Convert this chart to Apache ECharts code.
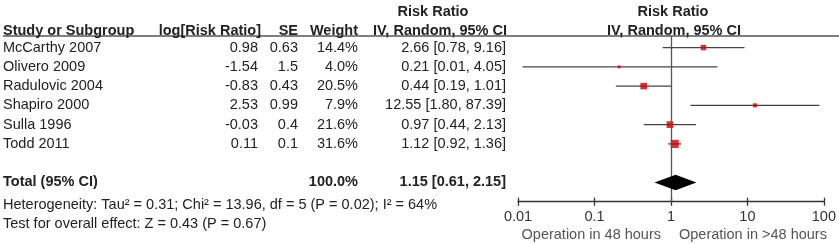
<!DOCTYPE html>
<html>
<head>
<meta charset="utf-8">
<script src="https://cdn.jsdelivr.net/npm/echarts@6/dist/echarts.min.js"></script>
<style>
  html, body { margin: 0; padding: 0; background: #fff; }
  #chart { width: 839px; height: 244px; }
</style>
</head>
<body>
<div id="chart"></div>
<script>
// study rows
var studies = ['McCarthy 2007', 'Olivero 2009', 'Radulovic 2004', 'Shapiro 2000', 'Sulla 1996', 'Todd 2011'];
var logRR = ['0.98', '-1.54', '-0.83', '2.53', '-0.03', '0.11'];
var se = ['0.63', '1.5', '0.43', '0.99', '0.4', '0.1'];
var weight = [14.4, 4.0, 20.5, 7.9, 21.6, 31.6];
var rr = [2.66, 0.21, 0.44, 12.55, 0.97, 1.12];
var ciLow = [0.78, 0.0115, 0.19, 1.80, 0.44, 0.92];
var ciHigh = [9.16, 4.05, 1.01, 87.39, 2.13, 1.36];

// pooled estimate
var totalLabel = 'Total (95% CI)';
var totalWeight = 100.0;
var totalRR = [1.15];
var totalLow = [0.61];
var totalHigh = [2.15];
var totalRow = 7;

// axis
var tickValues = [0.01, 0.1, 1, 10, 100];
var favoursLeft = 'Operation in 48 hours';
var favoursRight = 'Operation in >48 hours';
var hetText = 'Heterogeneity: Tau² = 0.31; Chi² = 13.96, df = 5 (P = 0.02); I² = 64%';
var overallText = 'Test for overall effect: Z = 0.43 (P = 0.67)';

var FONT = '"Liberation Sans", Arial, sans-serif';
var FS = 14.5;
var TXT = '#222';
var GRID_TOP = 36, GRID_BOTTOM = 42.3;
var PLOT_H = 244 - GRID_TOP - GRID_BOTTOM;

function ciText(v, l, h) {
  return v.toFixed(2) + ' [' + l.toFixed(2) + ', ' + h.toFixed(2) + ']';
}

var rows = studies.map(function (s, i) { return [rr[i], i]; });

var chart = echarts.init(document.getElementById('chart'));

function txt(x, y, s, align, bold, color) {
  return {
    type: 'text',
    x: x, y: y,
    style: {
      text: s, x: 0, y: 0,
      align: align, verticalAlign: 'middle',
      font: (bold ? 'bold ' : '') + FS + 'px ' + FONT,
      fill: color || TXT
    }
  };
}

chart.setOption({
  animation: false,
  grid: { left: 518, right: 12.5, top: GRID_TOP, bottom: GRID_BOTTOM },
  xAxis: [{
    type: 'log', logBase: 10, min: 0.01, max: 100, interval: 1, position: 'bottom',
    axisLine: { onZero: false, lineStyle: { color: '#333', width: 1.3 } },
    axisTick: { show: true, length: 4, lineStyle: { color: '#333', width: 1.3 } },
    axisLabel: {
      fontSize: FS, fontFamily: FONT, color: '#333', margin: 8,
      formatter: function (v) { return String(parseFloat(Number(v).toPrecision(3))); }
    },
    splitLine: { show: false }
  }, {
    // second copy pulled down onto the bottom edge, ticks pointing up
    type: 'log', logBase: 10, min: 0.01, max: 100, interval: 1, position: 'top',
    offset: -PLOT_H,
    axisLine: { show: false, onZero: false },
    axisTick: { show: true, length: 4, lineStyle: { color: '#333', width: 1.3 } },
    axisLabel: { show: false },
    splitLine: { show: false }
  }],
  yAxis: { type: 'value', min: -0.6, max: 8, inverse: true, show: false },
  graphic: [
    { type: 'line', shape: { x1: 3, y1: 36, x2: 839, y2: 36 }, style: { stroke: '#555', lineWidth: 1.6 } },
    txt(433, 11.7, 'Risk Ratio', 'center', true),
    txt(673, 11.7, 'Risk Ratio', 'center', true),
    txt(3, 30.5, 'Study or Subgroup', 'left', true),
    txt(261, 30.5, 'log[Risk Ratio]', 'right', true),
    txt(298, 30.5, 'SE', 'right', true),
    txt(358, 30.5, 'Weight', 'right', true),
    txt(440, 30.5, 'IV, Random, 95% CI', 'center', true),
    txt(674, 30.5, 'IV, Random, 95% CI', 'center', true),
    txt(3, 205, hetText, 'left', false),
    txt(3, 224, overallText, 'left', false),
    txt(661, 235, favoursLeft, 'right', false, '#555'),
    txt(679, 235, favoursRight, 'left', false, '#555')
  ],
  series: [
    {
      // confidence intervals
      type: 'custom',
      renderItem: function (params, api) {
        var i = api.value(1);
        var a = api.coord([ciLow[i], i]);
        var b = api.coord([ciHigh[i], i]);
        return {
          type: 'line',
          shape: { x1: a[0], y1: a[1], x2: b[0], y2: b[1] },
          style: { stroke: '#444', lineWidth: 1.3 }
        };
      },
      data: rows,
      markLine: {
        silent: true, symbol: 'none', label: { show: false },
        lineStyle: { color: '#555', width: 1.3, type: 'solid' },
        data: [{ xAxis: 1 }]
      },
      z: 2
    },
    {
      // study estimates
      type: 'scatter',
      symbol: 'rect',
      symbolSize: function (v, p) { return Math.sqrt(weight[p.dataIndex]) * 1.45; },
      itemStyle: { color: '#cc0000' },
      data: rows,
      z: 3
    },
    {
      // table columns
      type: 'custom',
      renderItem: function (params, api) {
        var i = api.value(1);
        var y = api.coord([1, i])[1];
        return {
          type: 'group',
          children: [
            txt(3, y, studies[i], 'left'),
            txt(258, y, logRR[i], 'right'),
            txt(298, y, se[i], 'right'),
            txt(358, y, weight[i].toFixed(1) + '%', 'right'),
            txt(506, y, ciText(rr[i], ciLow[i], ciHigh[i]), 'right')
          ]
        };
      },
      data: rows,
      z: 4
    },
    {
      // pooled diamond and total row
      type: 'custom',
      renderItem: function (params, api) {
        var r = totalRow;
        var l = api.coord([totalLow[0], r]);
        var h = api.coord([totalHigh[0], r]);
        var c = api.coord([totalRR[0], r]);
        var hh = 7.8;
        return {
          type: 'group',
          children: [
            {
              type: 'polygon',
              shape: { points: [[l[0], c[1]], [c[0], c[1] - hh], [h[0], c[1]], [c[0], c[1] + hh]] },
              style: { fill: '#000' }
            },
            txt(3, c[1], totalLabel, 'left', true),
            txt(358, c[1], totalWeight.toFixed(1) + '%', 'right', true),
            txt(506, c[1], ciText(totalRR[0], totalLow[0], totalHigh[0]), 'right', true)
          ]
        };
      },
      data: [[totalRR[0], totalRow]],
      z: 5
    }
  ]
});
</script>
</body>
</html>
